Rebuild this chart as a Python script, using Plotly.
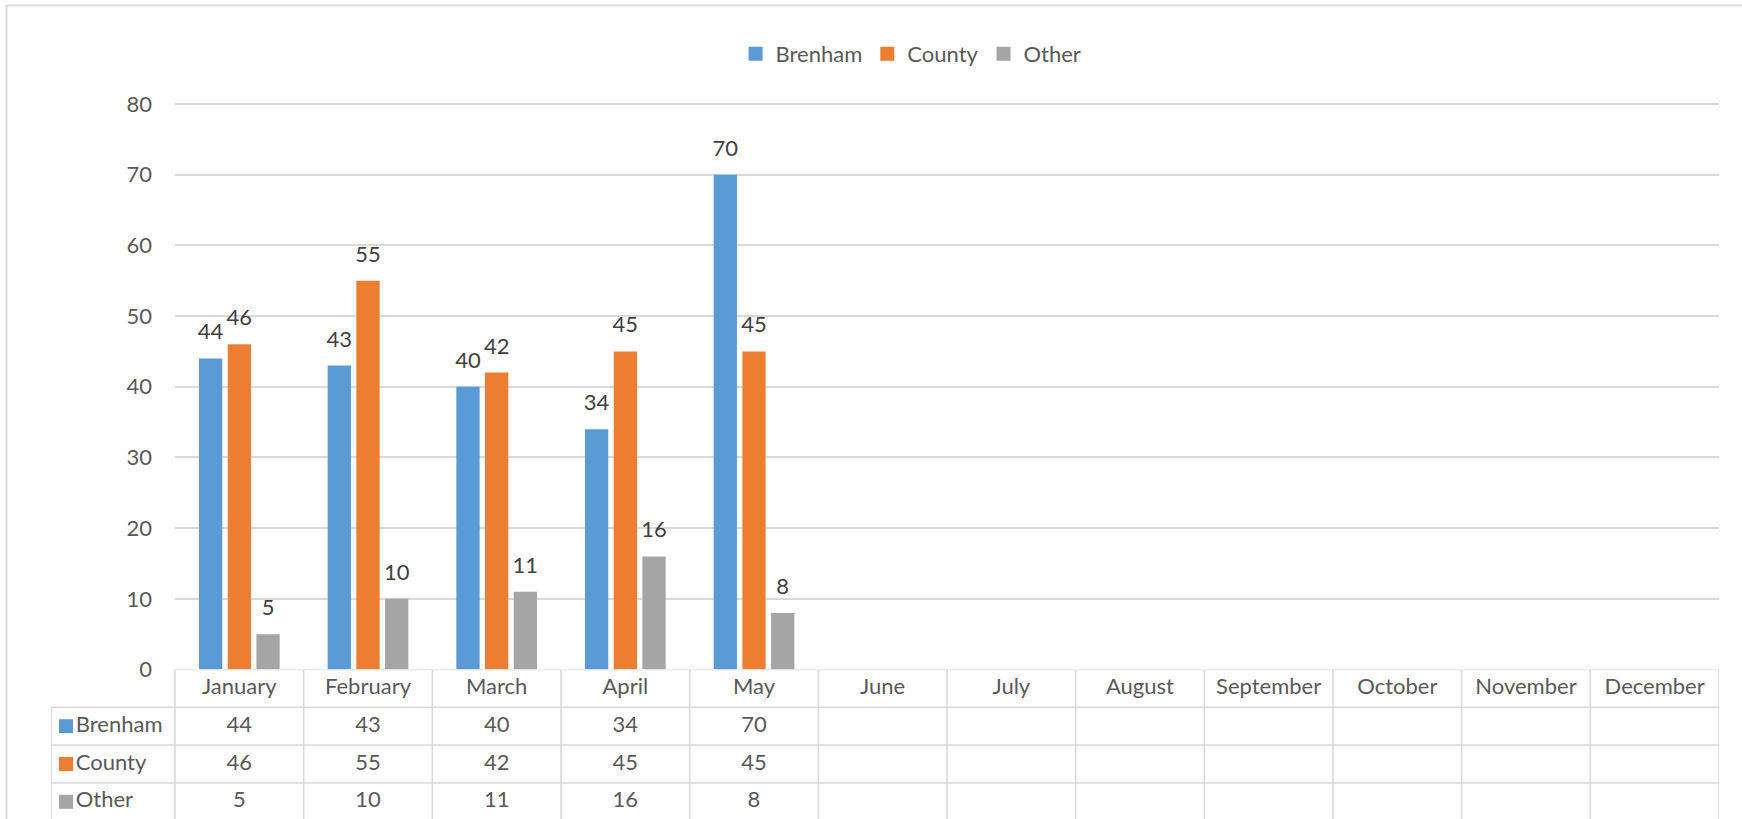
import plotly.graph_objects as go

# data
months = ['January', 'February', 'March', 'April', 'May', 'June', 'July',
          'August', 'September', 'October', 'November', 'December']
series_names = ['Brenham', 'County', 'Other']
brenham = [44, 43, 40, 34, 70]
county = [46, 55, 42, 45, 45]
other = [5, 10, 11, 16, 8]
colors = ['#5B9BD5', '#ED7D31', '#A5A5A5']
y_ticks = [0, 10, 20, 30, 40, 50, 60, 70, 80]

W, H = 1742, 819
FONT = 'Lato, Open Sans, sans-serif'
TXT = '#595959'
GRID = '#D9D9D9'
FS = 22

# plot area in pixels
plot_left, plot_right = 175, 1719
plot_bottom = 669.5
px_per_unit = (669.5 - 104) / 80
y_max = 80.3  # a little headroom so plotly keeps the top gridline
plot_top = plot_bottom - y_max * px_per_unit
table_left = 51
row_h = 37.8
cat_w = (plot_right - plot_left) / len(months)

# clustered bar geometry (category units)
bar_w = 0.181
bar_offsets = [-0.223, 0.0, 0.223]

fig = go.Figure()

all_series = [brenham, county, other]
for name, vals, col, off in zip(series_names, all_series, colors, bar_offsets):
    xs = [i + off for i in range(len(vals))]
    fig.add_trace(go.Bar(
        name=name, x=xs, y=vals, width=bar_w,
        marker=dict(color=col, line=dict(width=0)),
        xaxis='x', yaxis='y', hoverinfo='y', showlegend=False,
    ))
    # data labels, lifted a little above the bar tops
    fig.add_trace(go.Scatter(
        x=xs, y=vals, mode='markers+text',
        text=[str(v) for v in vals], textposition='top center',
        marker=dict(size=20, opacity=0),
        textfont=dict(size=FS, color='#404040', family=FONT),
        xaxis='x', yaxis='y', showlegend=False, hoverinfo='skip', cliponaxis=False,
    ))

# legend keys (square swatches like the Excel legend)
for name, col in zip(series_names, colors):
    fig.add_trace(go.Scatter(
        x=[None], y=[None], mode='markers', name=name,
        marker=dict(symbol='square', size=14, color=col),
        xaxis='x', yaxis='y', showlegend=True,
    ))

# data table: month header row
fig.add_trace(go.Scatter(
    x=list(range(len(months))), y=[0.5] * len(months),
    mode='text', text=months,
    textfont=dict(size=FS, color=TXT, family=FONT),
    xaxis='x2', yaxis='y2', showlegend=False, hoverinfo='skip',
))

# data table: value rows and series keys
key_x = -0.5 - (plot_left - 66) / cat_w
for r, (name, vals, col) in enumerate(zip(series_names, all_series, colors)):
    row_y = r + 1.5
    fig.add_trace(go.Scatter(
        x=list(range(len(vals))), y=[row_y] * len(vals),
        mode='text', text=[str(v) for v in vals],
        textfont=dict(size=FS, color=TXT, family=FONT),
        xaxis='x2', yaxis='y2', showlegend=False, hoverinfo='skip',
    ))
    fig.add_trace(go.Scatter(
        x=[key_x], y=[row_y],
        mode='markers+text', text=[name], textposition='middle right',
        marker=dict(symbol='square', size=14, color=col),
        textfont=dict(size=FS, color=TXT, family=FONT),
        xaxis='x2', yaxis='y2', showlegend=False, hoverinfo='skip',
        cliponaxis=False,
    ))

shapes = []
line = dict(color=GRID, width=1.5)
left_edge = -0.5 - (plot_left - table_left) / cat_w
n = len(months)
table_rows = (H - plot_bottom) / row_h
# horizontal lines
shapes.append(dict(type='line', xref='x2', yref='y2', x0=-0.5, x1=n - 0.5, y0=0, y1=0, line=line))
for yy in [1, 2, 3, 4]:
    shapes.append(dict(type='line', xref='x2', yref='y2', x0=left_edge, x1=n - 0.5, y0=yy, y1=yy, line=line))
# vertical lines
for k in range(n + 1):
    shapes.append(dict(type='line', xref='x2', yref='y2', x0=k - 0.5, x1=k - 0.5, y0=0, y1=4, line=line))
shapes.append(dict(type='line', xref='x2', yref='y2', x0=left_edge, x1=left_edge, y0=1, y1=4, line=line))
# chart border
shapes.append(dict(type='rect', xref='paper', yref='paper', x0=6.5 / W, x1=1.05, y0=-0.05, y1=1 - 5.5 / H,
                   line=dict(color=GRID, width=2), layer='below'))

fig.update_layout(
    width=W, height=H,
    margin=dict(l=0, r=0, t=0, b=0, autoexpand=False),
    paper_bgcolor='white', plot_bgcolor='white',
    font=dict(family=FONT, color=TXT, size=FS),
    barmode='overlay',
    showlegend=True,
    legend=dict(orientation='h', x=0.523, xanchor='center', y=1 - 54 / H, yanchor='middle',
                font=dict(size=FS, color=TXT, family=FONT), traceorder='normal',
                itemwidth=30),
    xaxis=dict(
        domain=[plot_left / W, plot_right / W],
        range=[-0.5, n - 0.5], showticklabels=False, showgrid=False,
        zeroline=False, showline=False, anchor='y', fixedrange=True, automargin=False,
    ),
    yaxis=dict(
        domain=[1 - plot_bottom / H, 1 - plot_top / H],
        range=[0, y_max], tickvals=y_ticks, showgrid=True, gridcolor=GRID, gridwidth=1.5,
        zeroline=False, showline=False, ticklabelstandoff=22, automargin=False,
        tickfont=dict(size=FS, color=TXT, family=FONT), anchor='x', fixedrange=True,
    ),
    xaxis2=dict(
        domain=[table_left / W, plot_right / W],
        range=[left_edge, n - 0.5], visible=False, anchor='y2', fixedrange=True,
    ),
    yaxis2=dict(
        domain=[0, 1 - plot_bottom / H],
        range=[table_rows, 0], visible=False, anchor='x2', fixedrange=True,
    ),
    shapes=shapes,
)

fig.write_html('out.html', config={'displayModeBar': False},
               post_script="document.body.style.margin='0';document.body.style.overflow='hidden';")
